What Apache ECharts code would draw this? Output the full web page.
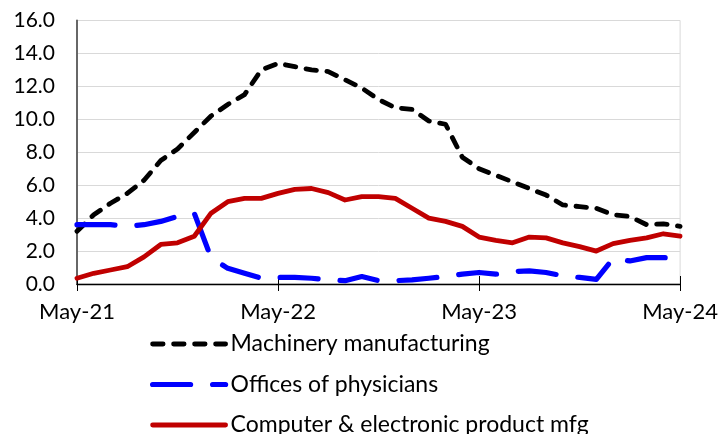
<!DOCTYPE html>
<html>
<head>
<meta charset="utf-8">
<script src="https://cdn.jsdelivr.net/npm/echarts@6.0.0/dist/echarts.min.js"></script>
<style>
html,body{margin:0;padding:0;background:#fff;}
#chart{width:721px;height:434px;}
</style>
</head>
<body>
<div id="chart"></div>
<script>
var months = ["May-21","Jun-21","Jul-21","Aug-21","Sep-21","Oct-21","Nov-21","Dec-21","Jan-22","Feb-22","Mar-22","Apr-22",
  "May-22","Jun-22","Jul-22","Aug-22","Sep-22","Oct-22","Nov-22","Dec-22","Jan-23","Feb-23","Mar-23","Apr-23",
  "May-23","Jun-23","Jul-23","Aug-23","Sep-23","Oct-23","Nov-23","Dec-23","Jan-24","Feb-24","Mar-24","Apr-24","May-24"];
var yTicks = [0, 2, 4, 6, 8, 10, 12, 14, 16];
var machinery = [3.2,4.2,4.9,5.5,6.3,7.5,8.2,9.2,10.2,10.9,11.5,13.0,
  13.4,13.2,13.0,12.9,12.4,11.9,11.2,10.7,10.6,9.9,9.7,7.7,
  7.0,6.6,6.2,5.8,5.4,4.8,4.7,4.6,4.2,4.1,3.6,3.65,3.5];
var physicians = [3.6,3.6,3.6,3.5,3.6,3.8,4.1,4.3,1.6,0.95,0.65,0.35,
  0.4,0.4,0.35,0.25,0.2,0.45,0.2,0.2,0.25,0.35,0.45,0.6,
  0.7,0.6,0.75,0.8,0.7,0.5,0.4,0.28,1.55,1.4,1.6,1.6,1.6];
var computer = [0.35,0.65,0.85,1.05,1.65,2.4,2.5,2.9,4.3,5.0,5.2,5.2,
  5.5,5.75,5.8,5.55,5.1,5.3,5.3,5.2,4.6,4.0,3.8,3.5,
  2.85,2.65,2.5,2.85,2.8,2.5,2.27,2.0,2.45,2.65,2.8,3.05,2.9];
var seriesNames = ["Machinery manufacturing","Offices of physicians","Computer & electronic product mfg"];

var FONT = 'Lato, Carlito, sans-serif';
var every12 = function (i) { return i % 12 === 0; };
var blackStyle = {color: '#000000', width: 4.8, type: [10.5, 10.5], cap: 'round', join: 'round'};
var blueStyle = {color: '#0000ff', width: 5.2, type: [38, 22], cap: 'round', join: 'round'};
var redStyle = {color: '#c00000', width: 4.8, cap: 'round', join: 'round'};
var chart = echarts.init(document.getElementById('chart'), null, {renderer: 'canvas'});
chart.setOption({
  animation: false,
  backgroundColor: '#ffffff',
  grid: {left: 77, right: 40, top: 20.5, bottom: 150, show: true, borderColor: '#d9d9d9', borderWidth: 1},
  legend: {
    orient: 'vertical', left: 145, top: 327, height: 140,
    itemWidth: 73, itemHeight: 14, itemGap: 16.5,
    data: [
      {name: seriesNames[0], lineStyle: blackStyle},
      {name: seriesNames[1], lineStyle: blueStyle},
      {name: seriesNames[2], lineStyle: redStyle}
    ],
    itemStyle: {opacity: 0},
    textStyle: {fontFamily: FONT, fontSize: 23, color: '#000', lineHeight: 24}
  },
  xAxis: [{
    type: 'category', data: months, boundaryGap: false,
    axisLine: {show: true, lineStyle: {color: '#000', width: 1.3}},
    axisTick: {show: true, interval: every12, length: 7, lineStyle: {color: '#000', width: 1}},
    axisLabel: {interval: every12, margin: 17, fontFamily: FONT, fontSize: 22, color: '#000'},
    splitLine: {show: false}
  }, {
    type: 'category', data: months, boundaryGap: false, position: 'bottom',
    axisLine: {show: false},
    axisTick: {show: true, inside: true, interval: every12, length: 8, lineStyle: {color: '#000', width: 1}},
    axisLabel: {show: false},
    splitLine: {show: false}
  }],
  yAxis: {
    type: 'value', min: yTicks[0], max: yTicks[yTicks.length - 1], interval: yTicks[1] - yTicks[0],
    axisLine: {show: true, lineStyle: {color: '#595959', width: 1.8}},
    axisTick: {show: false},
    axisLabel: {margin: 22, fontFamily: FONT, fontSize: 21, color: '#000', formatter: function (v) { return v.toFixed(1); }},
    splitLine: {show: true, lineStyle: {color: '#d9d9d9', width: 1}}
  },
  series: [{
    name: seriesNames[0], type: 'line', data: machinery, symbol: 'none',
    lineStyle: blackStyle, itemStyle: {color: '#000000'}
  }, {
    name: seriesNames[1], type: 'line', data: physicians, symbol: 'none',
    lineStyle: blueStyle, itemStyle: {color: '#0000ff'}
  }, {
    name: seriesNames[2], type: 'line', data: computer, symbol: 'none',
    lineStyle: redStyle, itemStyle: {color: '#c00000'}
  }]
});
</script>
</body>
</html>
